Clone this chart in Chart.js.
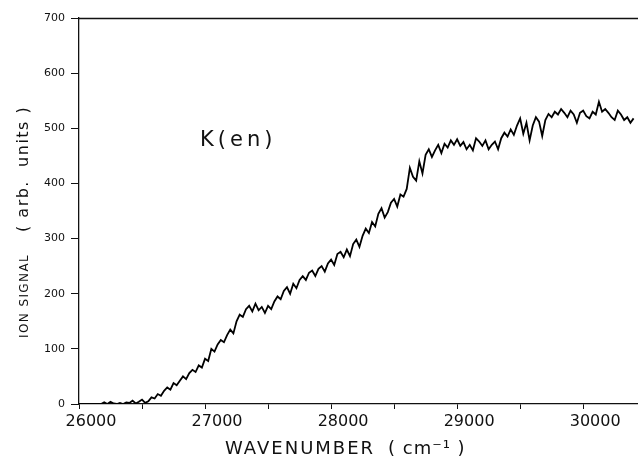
<!DOCTYPE html>
<html>
<head>
<meta charset="utf-8">
<script src="https://cdn.jsdelivr.net/npm/chart.js@4.4.1/dist/chart.umd.min.js"></script>
<style>
  html, body { margin: 0; padding: 0; background: #fff; }
  #wrap { width: 638px; height: 457px; position: relative; }
</style>
</head>
<body>
<div id="wrap"><canvas id="c" width="638" height="457"></canvas></div>
<script>
// Wavenumber grid (cm^-1), read every 25 cm^-1
const wavenumbers = [
  26000,26025,26050,26075,26100,26125,26150,26175,26200,26225,26250,26275,26300,26325,26350,26375,
  26400,26425,26450,26475,26500,26525,26550,26575,26600,26625,26650,26675,26700,26725,26750,26775,
  26800,26825,26850,26875,26900,26925,26950,26975,27000,27025,27050,27075,27100,27125,27150,27175,
  27200,27225,27250,27275,27300,27325,27350,27375,27400,27425,27450,27475,27500,27525,27550,27575,
  27600,27625,27650,27675,27700,27725,27750,27775,27800,27825,27850,27875,27900,27925,27950,27975,
  28000,28025,28050,28075,28100,28125,28150,28175,28200,28225,28250,28275,28300,28325,28350,28375,
  28400,28425,28450,28475,28500,28525,28550,28575,28600,28625,28650,28675,28700,28725,28750,28775,
  28800,28825,28850,28875,28900,28925,28950,28975,29000,29025,29050,29075,29100,29125,29150,29175,
  29200,29225,29250,29275,29300,29325,29350,29375,29400,29425,29450,29475,29500,29525,29550,29575,
  29600,29625,29650,29675,29700,29725,29750,29775,29800,29825,29850,29875,29900,29925,29950,29975,
  30000,30025,30050,30075,30100,30125,30150,30175,30200,30225,30250,30275,30300,30325,30350,30375,
  30400
];
// Ion signal (arb. units), K(en)
const ionSignal = [
  0,0,0,0,0,0,0,0,3,0,4,1,0,2,0,3,
  2,6,1,4,8,2,5,12,10,18,15,24,30,26,38,34,
  42,50,45,56,62,58,70,66,82,78,100,95,108,116,112,125,
  135,128,150,162,158,172,178,168,182,170,176,165,178,172,186,195,
  190,205,212,200,218,210,225,232,225,238,242,232,245,250,240,255,
  262,252,272,276,266,280,268,290,298,285,305,318,310,330,322,345,
  355,338,348,365,372,358,380,376,390,428,412,405,440,418,452,462,
  448,460,470,455,472,465,478,470,480,468,475,462,470,460,482,476,
  468,478,462,470,476,462,482,492,485,498,488,505,518,490,510,478,
  505,520,512,486,515,526,520,530,525,535,528,520,532,525,510,528,
  532,522,518,530,525,548,530,535,528,520,515,532,525,515,520,510,
  518
];
const xTickValues = [26000, 27000, 28000, 29000, 30000];
const yTickValues = [0, 100, 200, 300, 400, 500, 600, 700];
const seriesLabel = 'K(en)';
const xTitle = 'WAVENUMBER';
const xTitleUnit = '( cm\u207B\u00B9 )';
const yTitleA = 'ION SIGNAL';
const yTitleB = '( arb.  units )';

const points = wavenumbers.map((w, i) => ({ x: w, y: ionSignal[i] }));

const decor = {
  id: 'decor',
  afterDraw(chart) {
    const ctx = chart.ctx;
    const a = chart.chartArea;
    const xs = chart.scales.x, ys = chart.scales.y;
    ctx.save();
    // top frame line
    ctx.strokeStyle = '#111';
    ctx.lineWidth = 1.3;
    ctx.beginPath();
    ctx.moveTo(a.left, a.top + 0.5);
    ctx.lineTo(a.right, a.top + 0.5);
    ctx.stroke();
    ctx.fillStyle = '#111';
    // series annotation
    ctx.font = '21px "DejaVu Sans"';
    ctx.letterSpacing = '4px';
    ctx.textAlign = 'left';
    ctx.textBaseline = 'middle';
    ctx.fillText(seriesLabel, xs.getPixelForValue(26960), ys.getPixelForValue(478));
    // x title
    ctx.font = '18px "DejaVu Sans"';
    ctx.letterSpacing = '2px';
    ctx.textBaseline = 'alphabetic';
    ctx.fillText(xTitle, 225, 454);
    ctx.font = '18px "DejaVu Sans"';
    ctx.letterSpacing = '1px';
    ctx.fillText(xTitleUnit, 388, 454);
    // y title (rotated)
    ctx.translate(24, 0);
    ctx.rotate(-Math.PI / 2);
    ctx.textBaseline = 'middle';
    ctx.font = '12px "DejaVu Sans"';
    ctx.letterSpacing = '1.4px';
    ctx.fillText(yTitleA, -338, 1);
    ctx.font = '16px "DejaVu Sans"';
    ctx.letterSpacing = '1.5px';
    ctx.fillText(yTitleB, -232, 0);
    ctx.restore();
  }
};

new Chart(document.getElementById('c'), {
  type: 'line',
  data: {
    datasets: [{
      label: seriesLabel,
      data: points,
      borderColor: '#000',
      borderWidth: 1.8,
      pointRadius: 0,
      tension: 0,
      fill: false
    }]
  },
  options: {
    responsive: false,
    animation: false,
    layout: { padding: { top: 18, right: 0, left: 0, bottom: 0 } },
    plugins: { legend: { display: false }, tooltip: { enabled: false } },
    scales: {
      x: {
        type: 'linear',
        min: 26000,
        max: 30435,
        afterBuildTicks(scale) {
          const t = [];
          xTickValues.forEach(v => { t.push({ value: v }); if (v + 500 <= 30000) t.push({ value: v + 500 }); });
          scale.ticks = t.sort((p, q) => p.value - q.value);
        },
        afterFit(scale) { scale.height = 53; },
        ticks: {
          color: '#111',
          font: { family: 'DejaVu Sans', size: 16 },
          padding: 3,
          labelOffset: 12,
          maxRotation: 0,
          autoSkip: false,
          callback: (v) => xTickValues.includes(v) ? String(v) : ''
        },
        grid: { drawOnChartArea: false, drawTicks: true, tickLength: 5, color: '#111', lineWidth: 1 },
        border: { display: true, color: '#111', width: 1.3 }
      },
      y: {
        min: 0,
        max: 700,
        afterBuildTicks(scale) { scale.ticks = yTickValues.map(v => ({ value: v })); },
        afterFit(scale) { scale.width = 79; },
        ticks: {
          color: '#111',
          font: { family: 'DejaVu Sans', size: 11 },
          padding: 6,
          autoSkip: false
        },
        grid: { drawOnChartArea: false, drawTicks: true, tickLength: 8, color: '#111', lineWidth: 1 },
        border: { display: true, color: '#111', width: 1.3 }
      }
    }
  },
  plugins: [decor]
});
</script>
</body>
</html>
